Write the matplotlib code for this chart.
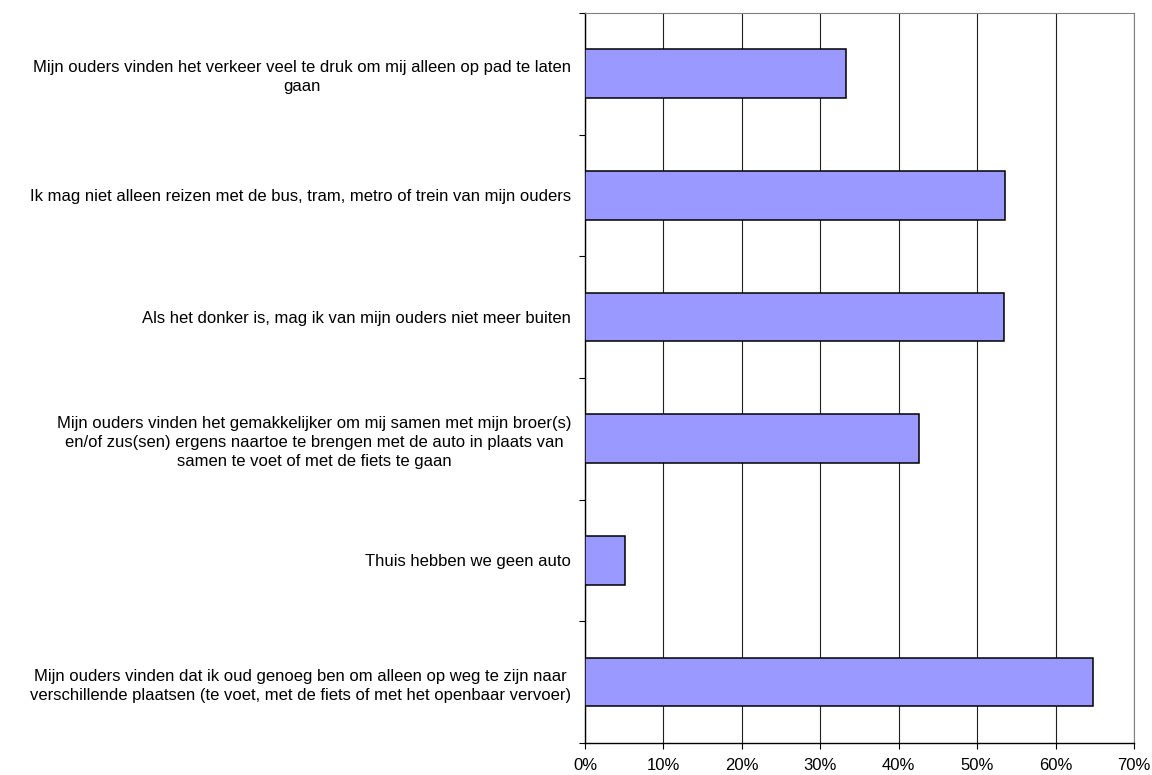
import matplotlib.pyplot as plt
from matplotlib.ticker import FixedLocator

plt.rcParams['font.family'] = ['Liberation Sans', 'DejaVu Sans']

labels = [
    "Mijn ouders vinden het verkeer veel te druk om mij alleen op pad te laten\ngaan",
    "Ik mag niet alleen reizen met de bus, tram, metro of trein van mijn ouders",
    "Als het donker is, mag ik van mijn ouders niet meer buiten",
    "Mijn ouders vinden het gemakkelijker om mij samen met mijn broer(s)\n"
    "en/of zus(sen) ergens naartoe te brengen met de auto in plaats van\n"
    "samen te voet of met de fiets te gaan",
    "Thuis hebben we geen auto",
    "Mijn ouders vinden dat ik oud genoeg ben om alleen op weg te zijn naar\n"
    "verschillende plaatsen (te voet, met de fiets of met het openbaar vervoer)",
]
values = [33.3, 53.6, 53.4, 42.6, 5.1, 64.8]
x_ticks = [0, 10, 20, 30, 40, 50, 60, 70]
x_labels = ["0%", "10%", "20%", "30%", "40%", "50%", "60%", "70%"]

fig = plt.figure(figsize=(11.52, 7.75), dpi=100)
ax = fig.add_axes([0.5078, 0.0413, 0.4766, 0.942])

positions = [i + 0.5 for i in range(len(values))]
ax.barh(positions, values, height=0.4, color='#9999FF', edgecolor='black',
        linewidth=1.1, zorder=3)

ax.set_xlim(0, 70)
ax.set_ylim(len(values), 0)

# vertical gridlines
ax.set_xticks(x_ticks)
ax.set_xticklabels(x_labels, fontsize=12)
ax.grid(axis='x', color='#202020', linewidth=0.8, zorder=1)

# category labels at bar centres, tick marks at the boundaries
ax.set_yticks(positions)
ax.set_yticklabels(labels, fontsize=12, multialignment='center', linespacing=1.33)
ax.tick_params(axis='y', which='major', length=0, pad=10)
ax.yaxis.set_minor_locator(FixedLocator(range(len(values) + 1)))
ax.tick_params(axis='y', which='minor', length=4, width=0.8, direction='out')
ax.tick_params(axis='x', length=4, width=0.8, direction='out', pad=7)

ax.spines['top'].set_color('#808080')
ax.spines['right'].set_color('#808080')
for side in ['left', 'bottom']:
    ax.spines[side].set_linewidth(1.0)

fig.savefig("out.png", dpi=100)
